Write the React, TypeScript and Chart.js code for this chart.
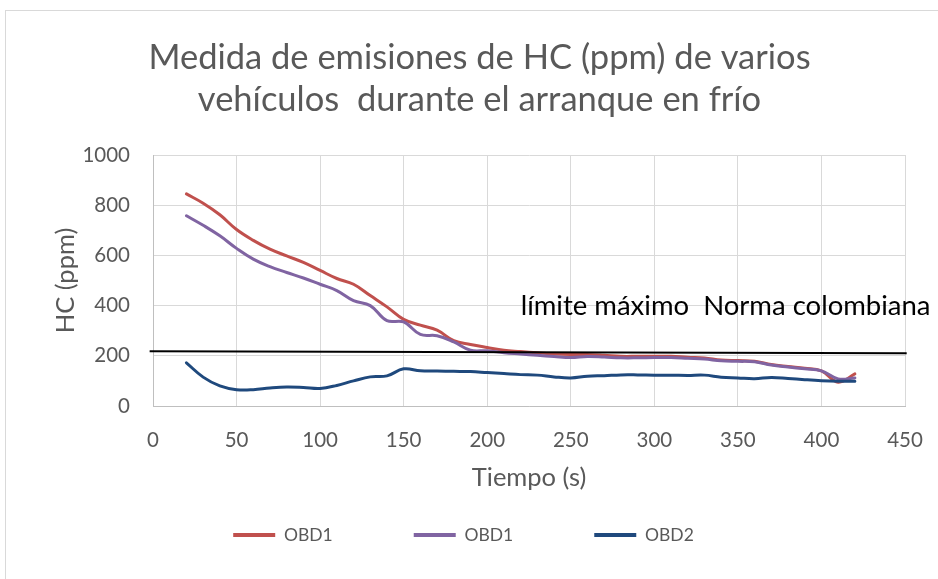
import { useEffect, useRef } from "react";
import { Chart, registerables } from "chart.js";

Chart.register(...registerables);

// ---- data ----
const timeSeconds = [
  20, 30, 40, 50, 60, 70, 80, 90, 100, 110, 120, 130, 140, 150, 160, 170, 180, 190, 200, 210,
  220, 230, 240, 250, 260, 270, 280, 290, 300, 310, 320, 330, 340, 350, 360, 370, 380, 390, 400, 410, 420,
];
const obd1First = [
  845, 808, 762, 703, 660, 625, 598, 572, 540, 508, 485, 440, 395, 345, 322, 302, 260, 245, 233, 222,
  217, 212, 207, 205, 205, 202, 198, 198, 198, 198, 194, 191, 183, 181, 178, 165, 157, 150, 140, 95, 128,
];
const obd1Second = [
  758, 720, 678, 628, 585, 555, 532, 510, 485, 460, 420, 400, 340, 335, 285, 280, 255, 222, 220, 212,
  207, 202, 197, 193, 197, 195, 192, 192, 193, 193, 190, 187, 180, 178, 176, 163, 155, 148, 140, 108, 112,
];
const obd2Values = [
  172, 115, 80, 65, 65, 72, 76, 74, 70, 82, 100, 116, 120, 148, 140, 139, 138, 137, 133, 129,
  125, 123, 116, 112, 119, 121, 124, 124, 123, 123, 122, 123, 115, 112, 109, 114, 110, 105, 101, 99, 99,
];
const seriesLabels = ["OBD1", "OBD1", "OBD2"];
const limitX = [-2, 451];
const limitY = [218, 210];
const limitLabel = "límite máximo  Norma colombiana";
const limitLabelAt = { x: 220, y: 396 };
const titleLines = ["Medida de emisiones de HC (ppm) de varios", "vehículos  durante el arranque en frío"];
const xAxisTitle = "Tiempo (s)";
const yAxisTitle = "HC (ppm)";
const xRange = { min: 0, max: 450, step: 50 };
const yRange = { min: 0, max: 1000, step: 200 };

const COLORS = ["#C0504D", "#8064A2", "#1F497D"];
const TEXT = "#595959";
const FONT = "Lato, 'Open Sans', sans-serif";
const LEGEND_GAP = 81;

const toPoints = (ys: number[]) => timeSeconds.map((x, i) => ({ x, y: ys[i] }));

const framePlugin = {
  id: "frame",
  beforeDraw(chart: any) {
    const { ctx, width, height } = chart;
    ctx.save();
    ctx.fillStyle = "#ffffff";
    ctx.fillRect(0, 0, width, height);
    ctx.strokeStyle = "#d9d9d9";
    ctx.lineWidth = 1;
    ctx.strokeRect(5.5, 10.5, width + 10, height + 10);
    ctx.restore();
  },
};

// nudge title and legend blocks to where the reference places them
const blockShiftPlugin = {
  id: "blockShift",
  afterLayout(chart: any) {
    const t = chart.titleBlock;
    if (t) t.left = 21;
    const l = chart.legend;
    if (l) {
      const h = l.bottom - l.top;
      l.top = 445.25;
      l.bottom = l.top + h;
      l.left -= 5.5;
      l.right -= 5.5;
    }
  },
};

const limitTextPlugin = {
  id: "limitText",
  afterDatasetsDraw(chart: any) {
    const { ctx, scales } = chart;
    const px = scales.x.getPixelForValue(limitLabelAt.x);
    const py = scales.y.getPixelForValue(limitLabelAt.y);
    ctx.save();
    ctx.font = `27.5px ${FONT}`;
    ctx.fillStyle = "#000000";
    ctx.textAlign = "left";
    ctx.textBaseline = "middle";
    ctx.fillText(limitLabel, px, py);
    ctx.restore();
  },
};

export default function App() {
  const canvasRef = useRef<HTMLCanvasElement | null>(null);

  useEffect(() => {
    if (!canvasRef.current) return;
    const datasets: any[] = [obd1First, obd1Second, obd2Values].map((vals, i) => ({
      label: seriesLabels[i],
      data: toPoints(vals),
      borderColor: COLORS[i],
      backgroundColor: COLORS[i],
      borderWidth: 3,
      pointRadius: 0,
      tension: 0.4,
      fill: false,
      borderCapStyle: "round",
      order: 3 - i,
    }));
    datasets.push({
      label: "",
      data: limitX.map((x, i) => ({ x, y: limitY[i] })),
      borderColor: "#000000",
      backgroundColor: "#000000",
      borderWidth: 2,
      pointRadius: 0,
      tension: 0,
      clip: false,
      order: 0,
    });

    const chart = new Chart(canvasRef.current, {
      type: "line",
      data: { datasets },
      plugins: [framePlugin, blockShiftPlugin, limitTextPlugin],
      options: {
        animation: false,
        responsive: false,
        events: [],
        layout: { padding: { left: 0, right: 0, top: 0, bottom: 20.5 } },
        plugins: {
          title: {
            display: true,
            text: titleLines,
            color: TEXT,
            font: { family: FONT, size: 34.5, weight: "normal", lineHeight: 42 / 34.5 },
            padding: { top: 37, bottom: 34 },
          },
          legend: {
            display: true,
            position: "bottom",
            labels: {
              color: TEXT,
              font: { family: FONT, size: 17.5 },
              boxWidth: 42,
              boxHeight: 4,
              padding: LEGEND_GAP,
              sort: (a: any, b: any) => a.datasetIndex - b.datasetIndex,
              generateLabels: (c: any) =>
                Chart.defaults.plugins.legend.labels
                  .generateLabels(c)
                  .filter((it: any) => it.text !== "")
                  .map((it: any) => ({ ...it, lineWidth: 0 })),
            },
          },
          tooltip: { enabled: false },
        },
        scales: {
          x: {
            type: "linear",
            min: xRange.min,
            max: xRange.max,
            afterFit: (s: any) => {
              s.height = 44;
            },
            ticks: {
              stepSize: xRange.step,
              color: TEXT,
              font: { family: FONT, size: 20.5, lineHeight: 68 / 20.5 },
              padding: 0,
              maxRotation: 0,
              callback: (v: any) => String(v),
            },
            grid: { color: "#d9d9d9", drawTicks: false },
            border: { color: "#bfbfbf" },
            title: {
              display: true,
              text: xAxisTitle,
              color: TEXT,
              font: { family: FONT, size: 25.5 },
              padding: { top: 0, bottom: -43.3 },
            },
          },
          y: {
            type: "linear",
            min: yRange.min,
            max: yRange.max,
            afterFit: (s: any) => {
              s.width = 153;
            },
            ticks: {
              stepSize: yRange.step,
              color: TEXT,
              font: { family: FONT, size: 20.5 },
              padding: 23,
              callback: (v: any) => String(v),
            },
            grid: { color: "#d9d9d9", drawTicks: false },
            border: { color: "#bfbfbf" },
            title: {
              display: true,
              text: yAxisTitle,
              color: TEXT,
              font: { family: FONT, size: 25.5 },
              padding: { top: 50, bottom: 0 },
            },
          },
          yRightSpace: {
            type: "linear",
            position: "right",
            display: true,
            afterFit: (s: any) => {
              s.width = 33;
            },
            ticks: { display: false },
            grid: { display: false, drawTicks: false },
            border: { display: false },
          },
        },
      } as any,
    });
    return () => chart.destroy();
  }, []);

  return (
    <div style={{ position: "fixed", left: 0, top: 0, width: 938, height: 579, background: "#fff" }}>
      <canvas ref={canvasRef} width={938} height={579} style={{ display: "block" }} />
    </div>
  );
}
